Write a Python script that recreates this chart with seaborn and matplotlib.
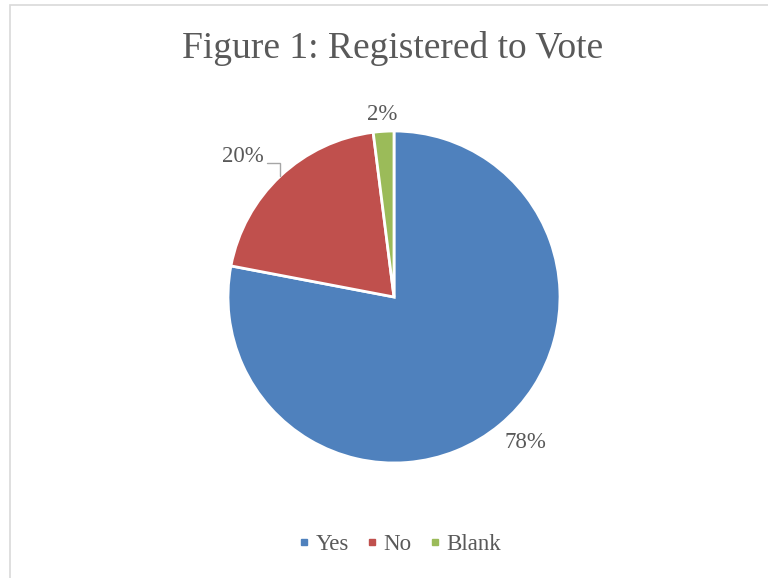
import numpy as np
import matplotlib
matplotlib.use("Agg")
import matplotlib.pyplot as plt
from matplotlib.patches import Rectangle
import seaborn as sns

# Survey answers to "Are you registered to vote?"
categories = ["Yes", "No", "Blank"]
shares = [78, 20, 2]
label_texts = ["78%", "20%", "2%"]
title = "Figure 1: Registered to Vote"

sns.set_theme(style="white")
plt.rcParams["font.family"] = ["Liberation Serif", "DejaVu Serif"]
palette = sns.color_palette(["#4F81BD", "#C0504D", "#9BBB59"])
text_color = "#595959"

W, H, DPI = 768, 578, 100
fig = plt.figure(figsize=(W / DPI, H / DPI), dpi=DPI)
fig.patch.set_facecolor("white")

# chart-area frame (top and left edges visible)
fig.patches.append(Rectangle((9.5 / W, -0.1), 1.2, 1 - 5.5 / H + 0.1,
                             transform=fig.transFigure, fill=False,
                             edgecolor="#D9D9D9", linewidth=1.2))

cx, cy, R = 394, 297, 166
ax = fig.add_axes([(cx - R) / W, (H - cy - R) / H, 2 * R / W, 2 * R / H])
wedges, _ = ax.pie(shares, colors=palette, startangle=90, counterclock=False,
                   radius=1, wedgeprops=dict(edgecolor="white", linewidth=2))
ax.set_xlim(-1, 1)
ax.set_ylim(-1, 1)
ax.set_aspect("equal")
ax.axis("off")

label_fs = 16.5

# "Yes" and "Blank" labels sit just outside their slices
for i, d, turn in [(0, 1.18, 2.5), (2, 1.10, 0.0)]:
    w = wedges[i]
    mid = np.deg2rad((w.theta1 + w.theta2) / 2 + turn)
    ax.text(d * np.cos(mid), d * np.sin(mid), label_texts[i], ha="center",
            va="center", fontsize=label_fs, color=text_color, clip_on=False)

# "No" label with an elbow leader line down to its slice
w = wedges[1]
mid = np.deg2rad((w.theta1 + w.theta2) / 2)
ex, ey = np.cos(mid), np.sin(mid)
ax.plot([ex - 0.08, ex, ex], [ey + 0.08, ey + 0.08, ey], color="#A6A6A6",
        linewidth=1, clip_on=False, solid_joinstyle="miter")
ax.text(ex - 0.1, ey + 0.12, label_texts[1], ha="right", va="center",
        fontsize=label_fs, color=text_color, clip_on=False)

fig.text(393 / W, 1 - 49 / H, title, ha="center", va="center", fontsize=27,
         color=text_color)

handles = [plt.Line2D([], [], marker="s", linestyle="", markersize=5,
                      markerfacecolor=c, markeredgecolor=c) for c in palette]
fig.legend(handles, categories, loc="center",
           bbox_to_anchor=(398 / W, 1 - 544 / H),
           ncol=3, frameon=False, fontsize=label_fs, handletextpad=0.1,
           columnspacing=0.6, handlelength=0.8, labelcolor=text_color)

fig.savefig("out.png", dpi=DPI, facecolor="white")
